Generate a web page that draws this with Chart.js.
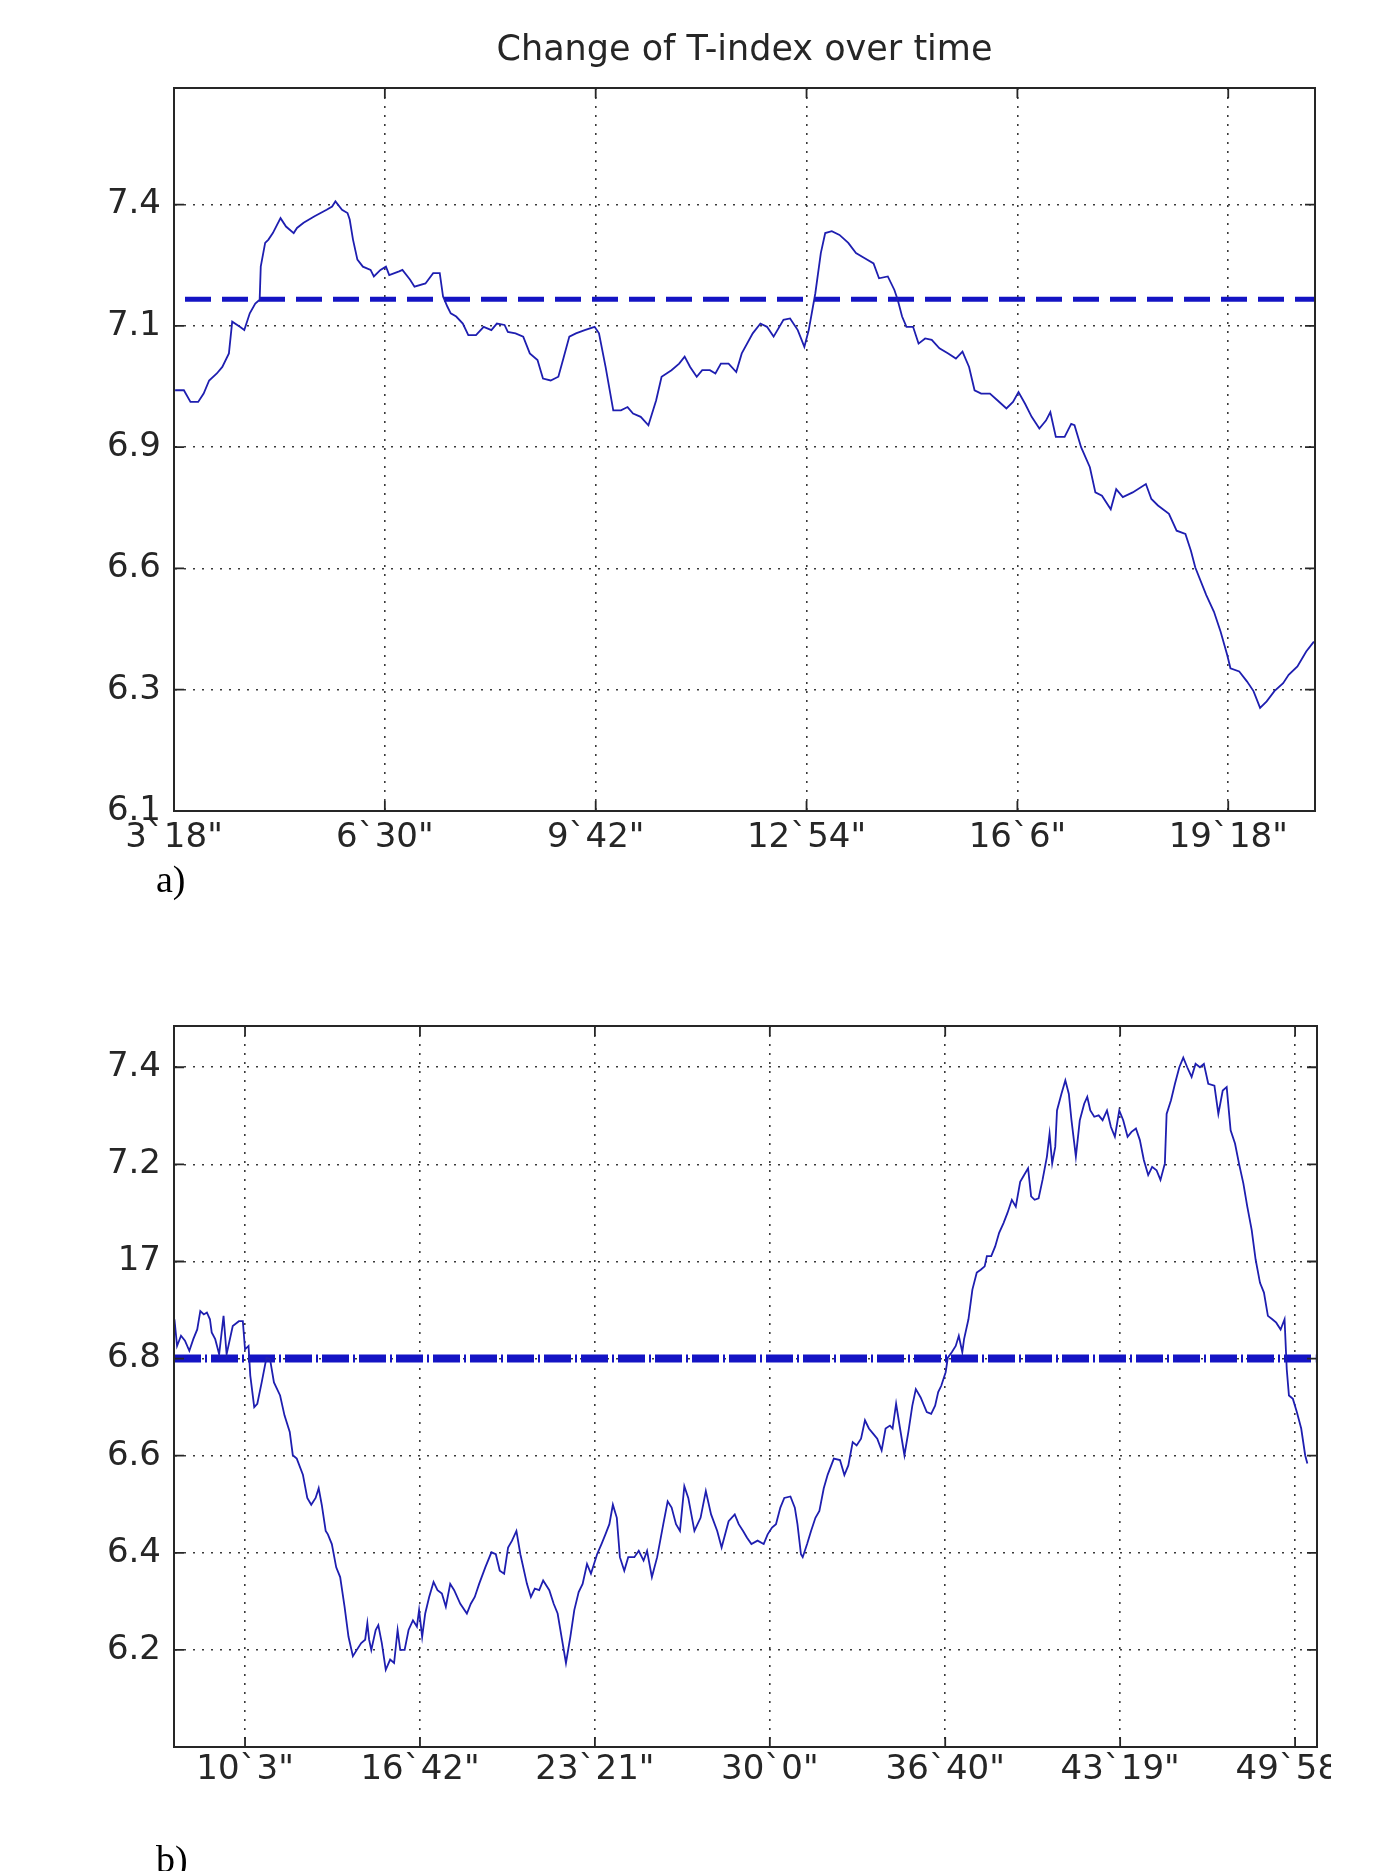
<!DOCTYPE html>
<html><head><meta charset="utf-8">
<script src="https://cdn.jsdelivr.net/npm/chart.js@4.4.1/dist/chart.umd.min.js"></script>
<style>
html,body{margin:0;padding:0;background:#fff;}
body{width:1378px;height:1871px;position:relative;overflow:hidden;}
canvas{display:block;}
#wa{position:absolute;left:0;top:0;width:1378px;height:880px;}
#wb{position:absolute;left:0;top:940px;width:1331px;height:931px;overflow:hidden;}
.lab{position:absolute;font-family:"Liberation Serif","Times New Roman",serif;font-size:38px;color:#000;line-height:1;}
</style></head><body>
<div id="wa"><canvas id="ca" width="1378" height="880"></canvas></div>
<div id="wb"><canvas id="cb" width="1378" height="931"></canvas></div>
<div class="lab" style="left:156px;top:860px">a)</div>
<div class="lab" style="left:156px;top:1840px">b)</div>
<script>
// ---------- chart a ----------
const aTitle = 'Change of T-index over time';
const aXTicks = [198, 390, 582, 774, 966, 1158];
const aXLabels = ['3`18"', '6`30"', '9`42"', '12`54"', '16`6"', '19`18"'];
const aYTicks = [6.10, 6.36, 6.62, 6.88, 7.14, 7.40];
const aYLabels = ['6.1', '6.3', '6.6', '6.9', '7.1', '7.4'];
const aXRange = [198, 1237];
const aYRange = [6.1, 7.65];
const aMean = 7.197;
const aTime = [199,207,213,220,225,230,237,242,248,251,258,262,267,272,276,277,281,284,288,295,
300,307,310,316,326,337,342,345,351,356,358,361,365,370,377,380,386,391,394,403,
406,413,417,427,434,440,443,447,450,455,461,466,473,480,487,492,499,502,509,516,
522,529,534,541,548,553,558,564,572,581,585,591,598,605,611,616,623,630,637,642,
651,658,663,668,674,679,686,691,696,703,710,715,
725,732,738,744,753,759,766,772,776,782,787,791,797,804,812,819,827,835,840,848,
854,857,861,865,871,876,882,888,895,903,910,916,922,927,933,941,948,956,962,967,
973,979,986,992,996,1001,1009,1015,1018,1024,1032,1037,1043,1051,1056,1062,1071,1083,1088,1094,
1104,1111,1119,1124,1128,
1138,1145,1151,1157,1160,1168,1175,1181,1187,1193,1200,1208,1213,1221,1229,1236];
const aValue = [7.002,7.002,6.977,6.977,6.995,7.023,7.038,7.052,7.081,7.149,7.138,7.131,7.167,7.188,7.196,7.267,7.318,7.325,7.339,7.371,
7.353,7.339,7.350,7.361,7.375,7.389,7.396,7.407,7.389,7.382,7.368,7.325,7.282,7.267,7.260,7.246,7.260,7.267,7.249,7.257,
7.260,7.239,7.224,7.231,7.253,7.253,7.203,7.181,7.167,7.160,7.145,7.120,7.120,7.138,7.131,7.145,7.142,7.127,7.124,7.117,
7.081,7.067,7.027,7.023,7.031,7.074,7.117,7.124,7.131,7.138,7.124,7.052,6.959,6.959,6.966,6.952,6.945,6.927,6.980,7.031,
7.045,7.059,7.074,7.052,7.031,7.045,7.045,7.038,7.059,7.059,7.041,7.081,
7.124,7.145,7.138,7.117,7.153,7.156,7.131,7.095,7.131,7.210,7.296,7.339,7.343,7.335,7.318,7.296,7.285,7.274,7.242,7.246,
7.217,7.196,7.160,7.138,7.138,7.102,7.113,7.110,7.092,7.081,7.070,7.085,7.052,7.002,6.995,6.995,6.980,6.963,6.977,6.998,
6.973,6.945,6.920,6.937,6.955,6.902,6.902,6.930,6.927,6.880,6.837,6.783,6.776,6.747,6.790,6.773,6.783,6.801,6.769,6.755,
6.737,6.701,6.694,6.658,6.622,
6.563,6.527,6.485,6.435,6.406,6.399,6.378,6.357,6.321,6.335,6.357,6.374,6.392,6.410,6.442,6.463];

// ---------- chart b ----------
const bXTicks = [603, 1002, 1401, 1800, 2200, 2599, 2998];
const bXLabels = ['10`3"', '16`42"', '23`21"', '30`0"', '36`40"', '43`19"', '49`58"'];
const bYTicks = [6.2, 6.4, 6.6, 6.8, 7.0, 7.2, 7.4];
const bYLabels = ['6.2', '6.4', '6.6', '6.8', '17', '7.2', '7.4'];
const bXRange = [441, 3048];
const bYRange = [6.0, 7.485];
const bMean = 6.8;
const bMeanSpan = [441, 3044];
const bTime = [442,448,457,466,476,485,494,501,509,516,523,527,535,544,554,561,575,589,598,603,
611,615,624,631,641,652,660,669,683,693,705,712,721,
735,745,754,764,771,778,787,792,801,811,820,830,839,849,858,868,877,882,886,891,
901,907,915,924,934,943,951,957,967,976,986,995,1000,1007,1014,1023,1033,1042,1052,1061,
1071,1080,1094,1109,1118,1127,1137,1151,1165,1175,1184,1194,1203,1212,1222,1231,1246,1255,1264,1274,
1283,1297,1307,1316,1326,1335,1345,1354,1364,1373,1383,1392,1406,1416,1425,1434,1442,1451,1458,1468,
1477,1491,1501,1512,1520,1531,1543,1557,1567,1576,1586,1595,1605,1614,1628,1642,1654,1666,1680,1690,
1706,1720,1729,1739,1748,1758,1772,1786,1795,1805,1814,1824,1833,1847,1857,1863,1871,1875,1885,1894,
1904,1913,1923,1932,
1946,1960,1970,1979,1989,1998,2008,2017,2026,2036,2045,2055,2064,2074,2080,2088,2097,2107,2116,2125,
2133,2144,2158,2168,2177,2184,2191,2201,2206,2215,2224,2231,2239,2243,2253,2262,2272,2281,2290,2295,
2305,2314,2323,2333,2342,2352,2361,2371,2380,2389,2396,2404,2413,2422,2432,2438,2444,2451,2455,2465,
2474,2482,2488,2498,2507,2517,2524,2531,2540,2550,2559,2569,2578,2587,2597,2606,2616,2625,2635,2644,
2653,2663,2672,2682,2691,2701,2705,2715,2724,2734,2743,2752,2762,2771,2781,2790,2800,2814,2823,2833,
2842,2851,2861,2870,2880,2889,2899,2908,2918,2927,2936,2946,2955,2965,2974,2979,2984,2993,3002,3012,
3021,3026];
const bValue = [6.881,6.826,6.847,6.837,6.816,6.840,6.860,6.898,6.891,6.895,6.881,6.854,6.840,6.809,6.888,6.809,6.867,6.877,6.877,6.819,
6.826,6.765,6.700,6.707,6.751,6.802,6.799,6.751,6.724,6.683,6.649,6.601,6.594,
6.561,6.513,6.499,6.513,6.533,6.499,6.445,6.438,6.418,6.370,6.350,6.289,6.227,6.187,6.200,6.214,6.221,6.255,6.221,6.200,
6.241,6.251,6.214,6.159,6.180,6.173,6.241,6.200,6.200,6.241,6.261,6.248,6.282,6.227,6.275,6.309,6.340,6.323,6.316,6.289,
6.336,6.323,6.295,6.275,6.295,6.309,6.336,6.370,6.401,6.397,6.363,6.357,6.411,6.425,6.445,6.397,6.336,6.309,6.326,6.323,
6.343,6.323,6.295,6.275,6.221,6.173,6.227,6.282,6.319,6.336,6.377,6.357,6.397,6.418,6.438,6.459,6.499,6.472,6.391,6.363,
6.391,6.391,6.404,6.384,6.404,6.350,6.391,6.459,6.506,6.493,6.459,6.445,6.537,6.513,6.445,6.472,6.527,6.479,6.445,6.411,
6.465,6.479,6.459,6.445,6.431,6.418,6.425,6.418,6.438,6.452,6.459,6.493,6.513,6.516,6.493,6.459,6.397,6.391,6.418,6.445,
6.472,6.486,6.533,6.561,
6.594,6.591,6.560,6.580,6.628,6.621,6.635,6.673,6.656,6.645,6.635,6.611,6.656,6.662,6.656,6.707,6.656,6.601,6.649,6.703,
6.737,6.720,6.690,6.686,6.703,6.731,6.744,6.772,6.802,6.813,6.826,6.847,6.813,6.840,6.881,6.942,6.977,6.983,6.990,7.011,
7.011,7.031,7.059,7.079,7.100,7.127,7.113,7.164,7.178,7.192,7.134,7.127,7.130,7.168,7.216,7.263,7.202,7.236,7.311,7.345,
7.373,7.345,7.291,7.216,7.291,7.325,7.339,7.311,7.298,7.301,7.291,7.311,7.277,7.257,7.311,7.291,7.257,7.267,7.274,7.250,
7.209,7.178,7.195,7.188,7.168,7.202,7.304,7.332,7.366,7.400,7.420,7.400,7.380,7.407,7.400,7.407,7.366,7.362,7.304,7.352,
7.359,7.270,7.243,7.202,7.161,7.113,7.065,7.004,6.956,6.936,6.888,6.881,6.874,6.860,6.881,6.778,6.724,6.717,6.690,6.656,
6.601,6.584];

// ---------- styling ----------
const INK = '#262626';
const FONT = 'DejaVu Sans';
const CURVE = '#1e1eb0';
const MEAN = '#1414c4';

function axis(range, ticks, labels, pad, size, isX) {
  return {
    type: 'linear', min: range[0], max: range[1], bounds: 'data',
    afterBuildTicks: s => { s.ticks = ticks.map(v => ({ value: v })); },
    afterFit: s => { if (isX) s.height = size; else s.width = size; },
    ticks: {
      autoSkip: false, maxRotation: 0, minRotation: 0, padding: pad, color: INK,
      font: { family: FONT, size: 34 },
      callback: (v, i) => labels[i]
    },
    grid: { color: '#3a3a3a', lineWidth: 1.6, drawTicks: false },
    border: { display: true, color: INK, width: 2, dash: [2, 7] }
  };
}

const framePlugin = {
  id: 'frame',
  afterDatasetsDraw(chart) {
    const { ctx, chartArea: a, scales } = chart;
    const x = scales.x, y = scales.y, L = 10;
    ctx.save();
    ctx.strokeStyle = INK;
    ctx.lineWidth = 1.8;
    ctx.beginPath();
    x.ticks.forEach(t => {
      const p = x.getPixelForValue(t.value);
      ctx.moveTo(p, a.bottom); ctx.lineTo(p, a.bottom - L);
      ctx.moveTo(p, a.top); ctx.lineTo(p, a.top + L);
    });
    y.ticks.forEach(t => {
      const p = y.getPixelForValue(t.value);
      ctx.moveTo(a.left, p); ctx.lineTo(a.left + L, p);
      ctx.moveTo(a.right, p); ctx.lineTo(a.right - L, p);
    });
    ctx.stroke();
    ctx.lineWidth = 2;
    ctx.strokeRect(a.left, a.top, a.right - a.left, a.bottom - a.top);
    ctx.restore();
  }
};

function pts(xs, ys) { return xs.map((t, i) => ({ x: t, y: ys[i] })); }

new Chart(document.getElementById('ca'), {
  type: 'line',
  data: { datasets: [
    { data: pts(aTime, aValue), borderColor: CURVE, borderWidth: 1.8, pointRadius: 0, tension: 0, fill: false },
    { data: aXRange.map(t => ({ x: t, y: aMean })), borderColor: MEAN, borderWidth: 5,
      borderDash: [26, 11], borderDashOffset: 26, pointRadius: 0, fill: false }
  ]},
  options: {
    responsive: false, animation: false, devicePixelRatio: 1,
    layout: { padding: { left: 0, right: 63, top: 0, bottom: 0 } },
    plugins: {
      legend: { display: false }, tooltip: { enabled: false },
      title: { display: true, text: aTitle, fullSize: false, color: INK,
        font: { family: FONT, size: 35, weight: 'normal', lineHeight: 1.2 },
        padding: { top: 30, bottom: 16 } }
    },
    scales: {
      x: axis(aXRange, aXTicks, aXLabels, 7, 69, true),
      y: axis(aYRange, aYTicks, aYLabels, 13, 174, false)
    }
  },
  plugins: [framePlugin]
});

new Chart(document.getElementById('cb'), {
  type: 'line',
  data: { datasets: [
    { data: pts(bTime, bValue), borderColor: CURVE, borderWidth: 1.8, pointRadius: 0, tension: 0, fill: false },
    { data: bMeanSpan.map(t => ({ x: t, y: bMean })), borderColor: MEAN, borderWidth: 8,
      borderDash: [27, 4, 2, 4], pointRadius: 0, fill: false }
  ]},
  options: {
    responsive: false, animation: false, devicePixelRatio: 1,
    layout: { padding: { left: 0, right: 61, top: 86, bottom: 0 } },
    plugins: { legend: { display: false }, tooltip: { enabled: false }, title: { display: false } },
    scales: {
      x: axis(bXRange, bXTicks, bXLabels, 3, 124, true),
      y: axis(bYRange, bYTicks, bYLabels, 13, 174, false)
    }
  },
  plugins: [framePlugin]
});
</script>
</body></html>
